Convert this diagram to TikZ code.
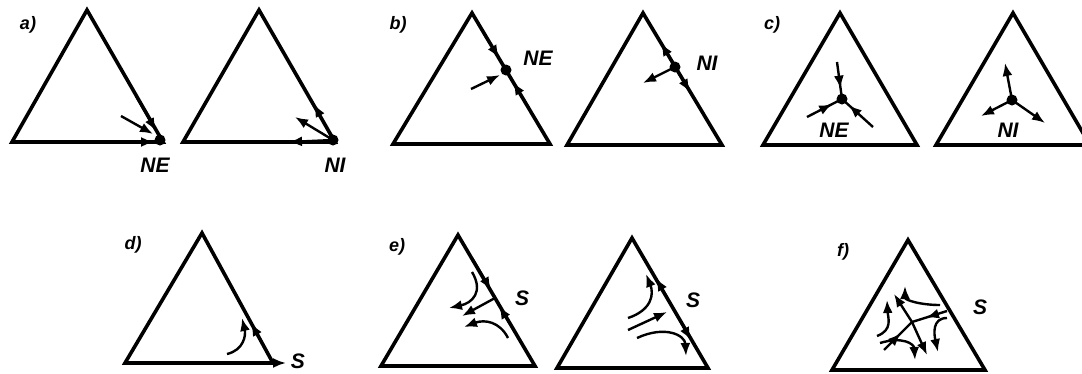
\documentclass[tikz,border=0pt]{standalone}
\usepackage{fontspec}
\setmainfont{Liberation Sans}
\usetikzlibrary{arrows.meta,decorations.markings}
\begin{document}
\begin{tikzpicture}[x=1pt,y=-1pt,
  tri/.style={line width=3.6pt,line join=miter},
  flow/.style={line width=2.4pt,-{Latex[length=13pt,width=10pt]}},
  midarr/.style={line width=2.4pt,postaction={decorate},decoration={markings,mark=at position #1 with {\arrow{Latex[length=13pt,width=10pt]}}}},
  fpt/.style={circle,fill,inner sep=0pt,minimum size=11pt},
  lab/.style={font=\bfseries\itshape\fontsize{21}{21}\selectfont,inner sep=0pt},
  plab/.style={font=\bfseries\itshape\fontsize{18}{18}\selectfont,inner sep=0pt}]
\useasboundingbox (0,0) rectangle (1082,373);
\clip (0,0) rectangle (1082,373);
% ---------- a) ----------
\node[plab] (la) at (28,25) {a)};
\draw[tri] (87,10) -- (12,142) -- (163,142) -- cycle;
\coordinate (ne1) at (160,140);
\coordinate (a1s) at (136,96); \coordinate (a1e) at (156,131);
\coordinate (a2s) at (112,142); \coordinate (a2e) at (154,142);
\coordinate (a3s) at (121,116); \coordinate (a3e) at (153,134);
\draw[flow] (a1s) -- (a1e);
\draw[flow] (a2s) -- (a2e);
\draw[flow] (a3s) -- (a3e);
\node[fpt] (pne1) at (ne1) {};
\node[lab] (tne1) at (155,165) {NE};
\draw[tri] (259,10) -- (183,142) -- (335,142) -- cycle;
\coordinate (ni1) at (333,140);
\coordinate (b1e) at (314,104);
\coordinate (b2e) at (289,142);
\coordinate (b3e) at (295,117);
\draw[flow] (ni1) -- (b1e);
\draw[flow] (ni1) -- (b2e);
\draw[flow] (ni1) -- (b3e);
\node[fpt] (pni1) at (ni1) {};
\node[lab] (tni1) at (335,165) {NI};
% ---------- b) ----------
\node[plab] (lb) at (398,25) {b)};
\draw[tri] (472,13) -- (393,144) -- (550,144) -- cycle;
\coordinate (ne2) at (506,70);
\coordinate (c1s) at (483,32); \coordinate (c1e) at (499,58);
\coordinate (c2s) at (529,108); \coordinate (c2e) at (513,82);
\coordinate (c3s) at (471,89); \coordinate (c3e) at (500,75);
\draw[flow] (c1s) -- (c1e);
\draw[flow] (c2s) -- (c2e);
\draw[flow] (c3s) -- (c3e);
\node[fpt] (pne2) at (ne2) {};
\node[lab] (tne2) at (538,58) {NE};
\draw[tri] (643,13) -- (567,145) -- (722,145) -- cycle;
\coordinate (ni2) at (675,67);
\coordinate (d1e) at (661,43);
\coordinate (d2e) at (690,92);
\coordinate (d3e) at (643,83);
\draw[flow] (ni2) -- (d1e);
\draw[flow] (ni2) -- (d2e);
\draw[flow] (ni2) -- (d3e);
\node[fpt] (pni2) at (ni2) {};
\node[lab] (tni2) at (707,63) {NI};
% ---------- c) ----------
\node[plab] (lc) at (772,25) {c)};
\draw[tri] (840,13) -- (763,145) -- (917,145) -- cycle;
\coordinate (ne3) at (842,99);
\coordinate (e1s) at (837,62);
\coordinate (e2s) at (807,117);
\coordinate (e3s) at (873,127);
\draw[midarr=0.72] (e1s) -- (ne3);
\draw[midarr=0.72] (e2s) -- (ne3);
\draw[midarr=0.78] (e3s) -- (ne3);
\node[fpt] (pne3) at (ne3) {};
\node[lab] (tne3) at (834,130) {NE};
\draw[tri] (1013,13) -- (936,145) -- (1090,145) -- cycle;
\coordinate (ni3) at (1012,100);
\coordinate (f1e) at (1005,63);
\coordinate (f2e) at (981,116);
\coordinate (f3e) at (1045,123);
\draw[flow] (ni3) -- (f1e);
\draw[flow] (ni3) -- (f2e);
\draw[flow] (ni3) -- (f3e);
\node[fpt] (pni3) at (ni3) {};
\node[lab] (tni3) at (1008,130) {NI};
% ---------- d) ----------
\node[plab] (ld) at (133,245) {d)};
\draw[tri] (202,233) -- (125,363) -- (273,363) -- cycle;
\coordinate (s1) at (273,363);
\coordinate (g1s) at (235,363); \coordinate (g1e) at (286,363);
\coordinate (g2e) at (251,323);
\coordinate (g3s) at (227,354); \coordinate (g3e) at (242,318);
\draw[flow] (g1s) -- (g1e);
\draw[flow] (s1) -- (g2e);
\draw[flow] (g3s) .. controls (244,350) and (246,335) .. (g3e);
\node[lab] (ts1) at (298,361) {S};
% ---------- e) ----------
\node[plab] (le) at (397,247) {e)};
\draw[tri] (458,235) -- (381,366) -- (535,366) -- cycle;
\coordinate (s2) at (495,298);
\coordinate (h1s) at (472,258); \coordinate (h1e) at (491,290);
\coordinate (h2s) at (515,332); \coordinate (h2e) at (499,306);
\coordinate (h3e) at (462,316);
\coordinate (h4s) at (472,272); \coordinate (h4e) at (449,308);
\coordinate (h5s) at (508,338); \coordinate (h5e) at (464,327);
\draw[flow] (h1s) -- (h1e);
\draw[flow] (h2s) -- (h2e);
\draw[flow] (s2) -- (h3e);
\draw[flow] (h4s) .. controls (484,292) and (472,303) .. (h4e);
\draw[flow] (h5s) .. controls (500,322) and (485,319) .. (h5e);
\node[lab] (ts2) at (522,298) {S};
\draw[tri] (632,238) -- (557,368) -- (708,368) -- cycle;
\coordinate (s3) at (673,308);
\coordinate (k1e) at (656,278);
\coordinate (k2e) at (691,340);
\coordinate (k3s) at (628,330); \coordinate (k3e) at (667,312);
\coordinate (k4s) at (628,318); \coordinate (k4e) at (646,274);
\coordinate (k5s) at (637,338); \coordinate (k5e) at (686,356);
\draw[flow] (s3) -- (k1e);
\draw[flow] (s3) -- (k2e);
\draw[flow] (k3s) -- (k3e);
\draw[flow] (k4s) .. controls (652,310) and (654,294) .. (k4e);
\draw[flow] (k5s) .. controls (665,325) and (685,335) .. (k5e);
\node[lab] (ts3) at (693,300) {S};
% ---------- f) ----------
\node[plab] (lf) at (843,252) {f)};
\draw[tri] (908,240) -- (832,370) -- (985,370) -- cycle;
\coordinate (s4) at (912,322);
\coordinate (m1s) at (877,336); \coordinate (m1e) at (887,300);
\coordinate (m2s) at (880,343); \coordinate (m2e) at (915,360);
\coordinate (m3s) at (940,305); \coordinate (m3e) at (905,286);
\coordinate (m4s) at (947,318); \coordinate (m4e) at (938,352);
\coordinate (m5e) at (894,294);
\coordinate (m6e) at (927,355);
\coordinate (m7s) at (884,350);
\coordinate (m8s) at (947,311);
\draw[flow] (m1s) .. controls (893,330) and (888,318) .. (m1e);
\draw[flow] (m2s) .. controls (903,336) and (914,344) .. (m2e);
\draw[flow] (m3s) .. controls (920,305) and (905,300) .. (m3e);
\draw[flow] (m4s) .. controls (932,318) and (934,334) .. (m4e);
\draw[flow] (s4) -- (m5e);
\draw[flow] (s4) -- (m6e);
\draw[midarr=0.6] (m7s) -- (s4);
\draw[midarr=0.6] (m8s) -- (s4);
\node[lab] (ts4) at (980,307) {S};
\end{tikzpicture}
\end{document}
